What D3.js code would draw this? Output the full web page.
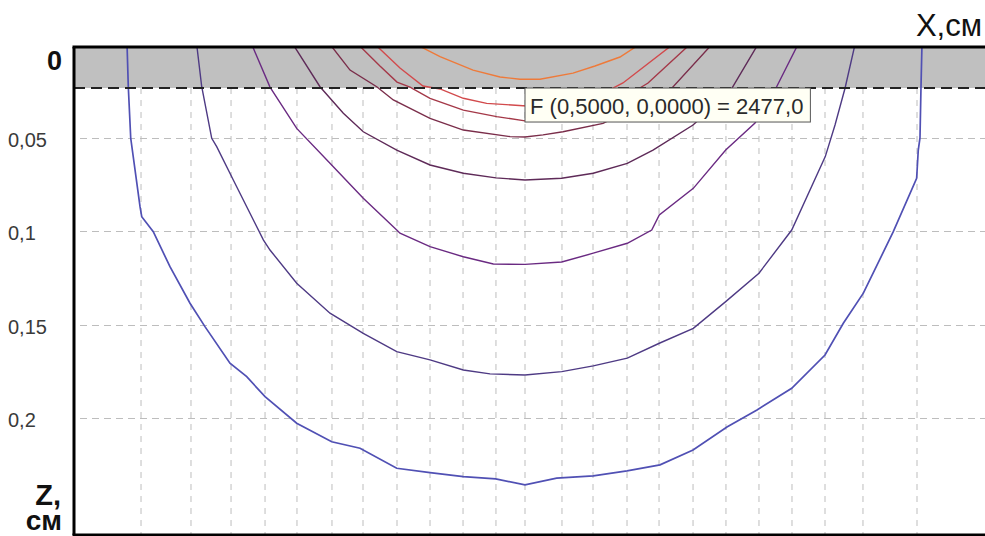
<!DOCTYPE html>
<html>
<head>
<meta charset="utf-8">
<script src="https://cdn.jsdelivr.net/npm/d3@7"></script>
<style>
  html, body { margin: 0; padding: 0; background: #ffffff; }
  svg { display: block; font-family: Arial, "Liberation Sans", sans-serif; }
</style>
</head>
<body>
<svg id="chart" width="985" height="536"></svg>
<script>
// ---------- data (x, z in cm) ----------
const gridX = [0.0743, 0.1297, 0.1741, 0.2118, 0.2472, 0.2860, 0.3204, 0.3581, 0.3947, 0.4313,
               0.4678, 0.5, 0.5410, 0.5754, 0.6131, 0.6486, 0.6863, 0.7228, 0.7594, 0.7960,
               0.8326, 0.8747, 0.9346];
const zTicks = [0.05, 0.1, 0.15, 0.2];
const zTickLabels = ["0,05", "0,1", "0,15", "0,2"];
const layerDepth = 0.0234;

const contour1 = [[0.0588,0],[0.0602,0.0227],[0.0629,0.0503],[0.0732,0.0869],[0.0751,0.0923],[0.0879,0.1003],[0.1064,0.1190],[0.1286,0.1386],[0.1452,0.1511],[0.1729,0.1707],[0.1915,0.1779],[0.2118,0.1886],[0.2469,0.2028],[0.2857,0.2127],[0.3171,0.2162],[0.3578,0.2269],[0.3947,0.2292],[0.4316,0.2314],[0.4675,0.2326],[0.5,0.2358],[0.5351,0.2322],[0.5757,0.2310],[0.6131,0.2283],[0.6497,0.2251],[0.6863,0.2171],[0.7239,0.2048],[0.7572,0.1957],[0.7957,0.1841],[0.8326,0.1663],[0.8529,0.1493],[0.8751,0.1332],[0.9083,0.1003],[0.9342,0.0717],[0.9360,0.0566],[0.9379,0.0501],[0.9390,0.0234],[0.9401,0]];
const contour2 = [[0.1360,0],[0.1416,0.0227],[0.1527,0.0503],[0.1582,0.0548],[0.1766,0.0726],[0.2099,0.1047],[0.2173,0.1101],[0.2469,0.1279],[0.2838,0.1439],[0.3207,0.1547],[0.3578,0.1645],[0.3947,0.1689],[0.4316,0.1743],[0.4612,0.1764],[0.5,0.1770],[0.5407,0.1752],[0.5757,0.1721],[0.6134,0.1680],[0.6489,0.1600],[0.6866,0.1520],[0.7225,0.1377],[0.7594,0.1225],[0.7957,0.0994],[0.8329,0.0601],[0.8437,0.0432],[0.8548,0.0235],[0.8659,0]];
const contour3 = [[0.1970,0],[0.2173,0.0229],[0.2469,0.0450],[0.2838,0.0637],[0.3207,0.0824],[0.3578,0.0994],[0.3614,0.1011],[0.3947,0.1083],[0.4316,0.1137],[0.4649,0.1176],[0.5,0.1178],[0.5407,0.1165],[0.5757,0.1118],[0.6134,0.1065],[0.6405,0.0994],[0.6489,0.0913],[0.6866,0.0771],[0.7225,0.0566],[0.7550,0.0421],[0.7783,0.0234],[0.8027,0]];
const contour4 = [[0.2428,0],[0.2727,0.0227],[0.2986,0.0369],[0.3207,0.0468],[0.3578,0.0566],[0.3947,0.0646],[0.4316,0.0690],[0.4678,0.0715],[0.5,0.0726],[0.5407,0.0717],[0.5757,0.0690],[0.6134,0.0637],[0.6419,0.0566],[0.6863,0.0432],[0.7106,0.0325],[0.7295,0.0234],[0.7583,0]];
const contour5 = [[0.2838,0],[0.3060,0.0138],[0.3356,0.0227],[0.3540,0.0298],[0.3947,0.0396],[0.4316,0.0459],[0.4834,0.0494],[0.5,0.0496],[0.5200,0.0485],[0.5421,0.0468],[0.5865,0.0423],[0.6275,0.0325],[0.6630,0.0234],[0.7073,0]];
const contour6 = [[0.3149,0],[0.3392,0.0116],[0.3581,0.0202],[0.3725,0.0229],[0.3947,0.0289],[0.4316,0.0352],[0.4686,0.0387],[0.5,0.0410],[0.5388,0.0400],[0.5831,0.0341],[0.6164,0.0266],[0.6364,0.0207],[0.6829,0]];
const contour7 = [[0.3337,0],[0.3614,0.0127],[0.3869,0.0223],[0.4058,0.0239],[0.4316,0.0289],[0.4575,0.0316],[0.5019,0.0330],[0.5499,0.0319],[0.5831,0.0271],[0.6086,0.0207],[0.6641,0]];
const contour8 = [[0.3790,0],[0.4058,0.0066],[0.4424,0.0138],[0.4723,0.0175],[0.4945,0.0187],[0.5166,0.0187],[0.5532,0.0154],[0.5776,0.0116],[0.6053,0.0068],[0.6270,0]];
const contours = [contour1, contour2, contour3, contour4, contour5, contour6, contour7, contour8];
const contourColors = ["#5050b4", "#4e3a84", "#6a2a82", "#5e2a58", "#7a2d4a", "#a43848", "#d24a4c", "#ee7a3a"];

const probeX = 0.5, probeZ = 0.0;
const probeText = "F (0,5000, 0,0000) = 2477,0";

// ---------- layout ----------
const W = 985, H = 536;
const plot = { left: 74, top: 47, right: 985, bottom: 535 };
const x = d3.scaleLinear().domain([0, 1]).range([74, 976]);
const y = d3.scaleLinear().domain([0, 0.2]).range([44.3, 418]);

const svg = d3.select("#chart");

svg.append("defs").append("clipPath").attr("id", "clip")
  .append("rect")
  .attr("x", plot.left).attr("y", plot.top)
  .attr("width", plot.right - plot.left).attr("height", plot.bottom - plot.top);

const g = svg.append("g").attr("clip-path", "url(#clip)");

// grid
g.selectAll("line.vgrid").data(gridX).join("line")
  .attr("class", "vgrid")
  .attr("x1", d => x(d)).attr("x2", d => x(d))
  .attr("y1", y(layerDepth)).attr("y2", plot.bottom)
  .attr("stroke", "#bdbdbd").attr("stroke-width", 1)
  .attr("stroke-dasharray", "6,6");

g.selectAll("line.hgrid").data(zTicks).join("line")
  .attr("class", "hgrid")
  .attr("x1", plot.left + 6).attr("x2", plot.right)
  .attr("y1", d => Math.round(y(d)) + 0.5).attr("y2", d => Math.round(y(d)) + 0.5)
  .attr("stroke", "#bdbdbd").attr("stroke-width", 1)
  .attr("stroke-dasharray", "7,5");

// coating layer band
g.append("rect")
  .attr("x", plot.left).attr("y", plot.top)
  .attr("width", plot.right - plot.left)
  .attr("height", y(layerDepth) - plot.top)
  .attr("fill", "#c0c0c0");

// contours
const line = d3.line().x(d => x(d[0])).y(d => y(d[1]));
g.selectAll("path.contour").data(contours).join("path")
  .attr("class", "contour")
  .attr("d", line)
  .attr("fill", "none")
  .attr("stroke", (d, i) => contourColors[i])
  .attr("stroke-width", (d, i) => i === 0 ? 1.7 : 1.4);

// layer boundary dashed line
g.append("line")
  .attr("x1", plot.left).attr("x2", plot.right)
  .attr("y1", y(layerDepth)).attr("y2", y(layerDepth))
  .attr("stroke", "#222").attr("stroke-width", 2.2)
  .attr("stroke-dasharray", "11,6");

// probe tooltip
const tip = svg.append("g");
const tx = x(probeX), ty = y(layerDepth);
const tipRect = tip.append("rect")
  .attr("x", tx).attr("y", ty)
  .attr("height", 34)
  .attr("fill", "#fffff4")
  .attr("stroke", "#555").attr("stroke-width", 1);
const tipText = tip.append("text")
  .attr("x", tx + 5).attr("y", ty + 26)
  .attr("font-size", 22).attr("fill", "#2a2a2a")
  .text(probeText);
tipRect.attr("width", tipText.node().getComputedTextLength() + 12);

// frame
svg.append("line").attr("x1", plot.left - 1.5).attr("x2", W)
  .attr("y1", plot.top).attr("y2", plot.top)
  .attr("stroke", "#000").attr("stroke-width", 3);
svg.append("line").attr("x1", plot.left).attr("x2", plot.left)
  .attr("y1", plot.top).attr("y2", plot.bottom)
  .attr("stroke", "#000").attr("stroke-width", 3);
svg.append("line").attr("x1", plot.left - 1.5).attr("x2", W)
  .attr("y1", plot.bottom).attr("y2", plot.bottom)
  .attr("stroke", "#000").attr("stroke-width", 3);

// tick labels
svg.selectAll("text.ztick").data(zTicks).join("text")
  .attr("class", "ztick")
  .attr("x", 8).attr("y", d => y(d) + 9)
  .attr("font-size", 20).attr("fill", "#3a3a3a")
  .text((d, i) => zTickLabels[i]);

svg.append("text")
  .attr("x", 62).attr("y", y(0) + 26)
  .attr("text-anchor", "end")
  .attr("font-size", 27).attr("font-weight", "bold").attr("fill", "#111")
  .text("0");

// axis titles
svg.append("text")
  .attr("x", 982).attr("y", 36)
  .attr("text-anchor", "end")
  .attr("font-size", 31).attr("fill", "#111")
  .text("X,см");

const zTitle = svg.append("text")
  .attr("text-anchor", "end")
  .attr("font-weight", "bold").attr("fill", "#111");
zTitle.append("tspan").attr("x", 61).attr("y", 505).attr("font-size", 29).text("Z,");
zTitle.append("tspan").attr("x", 62).attr("y", 530).attr("font-size", 28).text("см");
</script>
</body>
</html>
